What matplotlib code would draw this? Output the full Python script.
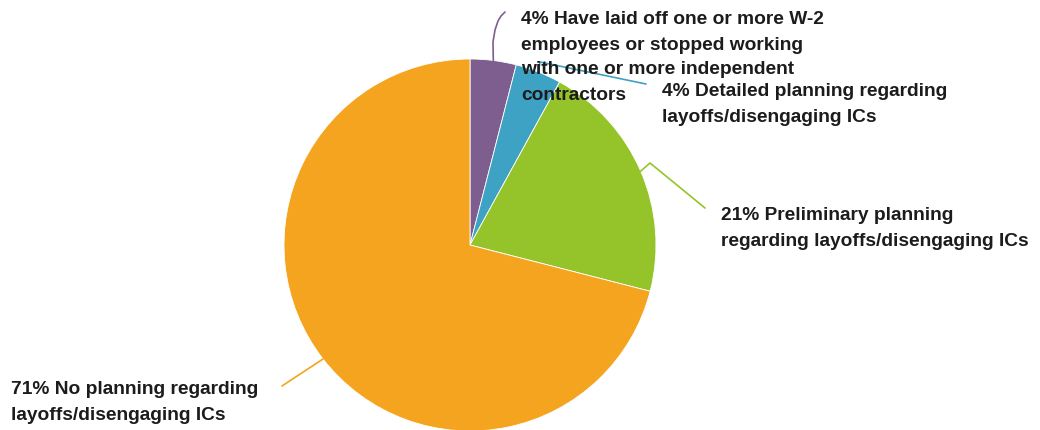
import numpy as np
import matplotlib
matplotlib.use('Agg')
import matplotlib.pyplot as plt

plt.rcParams['font.family'] = ['Liberation Sans', 'DejaVu Sans']

# Share of respondents by layoff / IC disengagement status
labels = [
    '4% Have laid off one or more W-2\nemployees or stopped working\nwith one or more independent\ncontractors',
    '4% Detailed planning regarding\nlayoffs/disengaging ICs',
    '21% Preliminary planning\nregarding layoffs/disengaging ICs',
    '71% No planning regarding\nlayoffs/disengaging ICs',
]
values = [4, 4, 21, 71]
colors = ['#7E5E8E', '#3DA2C3', '#95C42A', '#F4A41E']

W, H = 1040, 430
CX, CY, R = 470, 185, 186
LINE_H = 25  # px between label lines

fig = plt.figure(figsize=(W / 100, H / 100), dpi=100)
ax = fig.add_axes([0, 0, 1, 1])

ax.pie(values, colors=colors, startangle=90, counterclock=False,
       center=(CX, CY), radius=R,
       wedgeprops=dict(linewidth=0.6, edgecolor='white'))
ax.set_xlim(0, W)
ax.set_ylim(0, H)
ax.set_aspect('equal')
ax.axis('off')

# mid angle of each wedge, clockwise from 12 o'clock
frac = np.array(values) / sum(values)
mid = 90 - (np.cumsum(frac) - frac / 2) * 360

# (leader path after the wedge edge, first text line centre) per slice
leaders = [
    ([(493, 42), (495, 30), (498, 21), (501, 16), (505, 12)], (521, 18)),
    ([(540, 62), (646, 84)], (662, 90)),
    ([(650, 163), (705, 208)], (721, 214)),
    ([(282, 386)], (11, 388)),
]

for a, col, lab, (path, txt) in zip(mid, colors, labels, leaders):
    x0 = CX + R * np.cos(np.radians(a))
    y0 = CY + R * np.sin(np.radians(a))
    xs = [x0] + [p[0] for p in path]
    ys = [y0] + [H - p[1] for p in path]
    ax.plot(xs, ys, color=col, linewidth=1.2, solid_capstyle='round',
            solid_joinstyle='round')
    for i, line in enumerate(lab.split('\n')):
        ax.text(txt[0], H - txt[1] - i * LINE_H, line,
                ha='left', va='center_baseline',
                fontsize=13.8, fontweight='bold', color='#1c1c1c')

fig.savefig('out.png', dpi=100)
